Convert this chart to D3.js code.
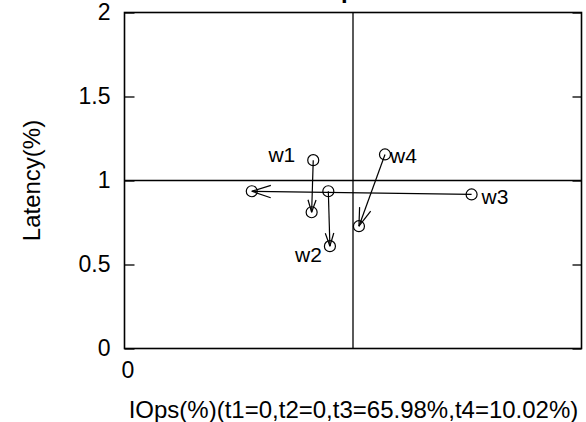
<!DOCTYPE html>
<html>
<head>
<meta charset="utf-8">
<script src="https://cdn.jsdelivr.net/npm/d3@7"></script>
<style>
  body { margin: 0; background: #fff; }
  svg { display: block; }
  text { font-family: Arial, "Liberation Sans", sans-serif; fill: #000; }
</style>
</head>
<body>
<svg width="586" height="422"></svg>
<script>
// workload names
var workloads = ["w1", "w2", "w3", "w4"];
// before -> after (IOps %, Latency %)
var startIOps = [0.826, 0.892, 1.519, 1.140];
var startLat  = [1.121, 0.936, 0.917, 1.155];
var endIOps   = [0.819, 0.899, 0.557, 1.026];
var endLat    = [0.811, 0.609, 0.936, 0.728];

var yTicks = [0, 0.5, 1, 1.5, 2];
var xTicks = [0];
var xTitle = "IOps(%)(t1=0,t2=0,t3=65.98%,t4=10.02%)";
var yTitle = "Latency(%)";
var chartTitle = "p";

// label placement, px offset from the point the label hangs on
var labelAt = {
    w1: { at: "start", dx: -18, dy: 2, anchor: "end" },
    w2: { at: "end", dx: -8, dy: 16, anchor: "end" },
    w3: { at: "start", dx: 10, dy: 10, anchor: "start" },
    w4: { at: "start", dx: 5, dy: 9, anchor: "start" }
};

var svg = d3.select("svg");
var pLeft = 124.5, pRight = 581.5, pTop = 12.5, pBottom = 348.5;

var x = d3.scaleLinear().domain([0, 2]).range([pLeft, pRight]);
var y = d3.scaleLinear().domain([0, 2]).range([pBottom, pTop]);

var data = workloads.map(function(w, i) {
    return { name: w, x0: startIOps[i], y0: startLat[i], x1: endIOps[i], y1: endLat[i] };
});

// title (mostly outside the view)
svg.append("text")
    .attr("x", 341)
    .attr("y", -2)
    .style("font-size", "24px")
    .style("font-weight", "bold")
    .text(chartTitle);

// reference lines at 100%
svg.append("line")
    .attr("x1", x(1)).attr("x2", x(1))
    .attr("y1", pTop).attr("y2", pBottom)
    .attr("stroke", "#000").attr("stroke-width", 1.3);
svg.append("line")
    .attr("x1", pLeft).attr("x2", pRight)
    .attr("y1", y(1)).attr("y2", y(1))
    .attr("stroke", "#000").attr("stroke-width", 1.3);

// left axis, ticks inside
var yAxis = d3.axisLeft(y).tickValues(yTicks).tickSize(-10).tickPadding(14)
    .tickFormat(d3.format("~g"));
var gy = svg.append("g").attr("transform", "translate(" + pLeft + ",0)").call(yAxis);
gy.select(".domain").remove();
gy.selectAll("text").style("font-size", "23px").style("font-family", "Arial, 'Liberation Sans', sans-serif");
gy.selectAll("line").attr("stroke-width", 1.3);

// right axis ticks
var gr = svg.append("g").attr("transform", "translate(" + pRight + ",0)")
    .call(d3.axisRight(y).tickValues(yTicks).tickSize(-9).tickFormat(""));
gr.select(".domain").remove();
gr.selectAll("line").attr("stroke-width", 1.3);

// bottom axis: just the 0 label
var gx = svg.append("g").attr("transform", "translate(0," + pBottom + ")")
    .call(d3.axisBottom(x).tickValues(xTicks).tickSize(0).tickPadding(13)
        .tickFormat(d3.format("~g")));
gx.select(".domain").remove();
gx.selectAll("text").style("font-size", "23px").style("font-family", "Arial, 'Liberation Sans', sans-serif")
    .attr("dx", 3);

// frame
svg.append("rect")
    .attr("x", pLeft).attr("y", pTop)
    .attr("width", pRight - pLeft).attr("height", pBottom - pTop)
    .attr("fill", "none").attr("stroke", "#000").attr("stroke-width", 1.6);

// axis titles
svg.append("text")
    .attr("x", 353.5).attr("y", 418)
    .attr("text-anchor", "middle")
    .style("font-size", "24px")
    .text(xTitle);
svg.append("text")
    .attr("transform", "translate(40," + y(1) + ") rotate(-90)")
    .attr("text-anchor", "middle")
    .style("font-size", "24px")
    .text(yTitle);

// arrows
var g = svg.append("g").attr("stroke", "#000").attr("fill", "none");
data.forEach(function(d) {
    var ax = x(d.x0), ay = y(d.y0), bx = x(d.x1), by = y(d.y1);
    g.append("line")
        .attr("x1", ax).attr("y1", ay).attr("x2", bx).attr("y2", by)
        .attr("stroke-width", 1.2);
    var len = Math.hypot(bx - ax, by - ay);
    var head = Math.min(0.25 * len, 20);
    var ang = Math.atan2(ay - by, ax - bx);
    var spread = 18 * Math.PI / 180;
    [-spread, spread].forEach(function(s) {
        g.append("line")
            .attr("x1", bx).attr("y1", by)
            .attr("x2", bx + head * Math.cos(ang + s))
            .attr("y2", by + head * Math.sin(ang + s))
            .attr("stroke-width", 1.2);
    });
    g.append("circle").attr("cx", ax).attr("cy", ay).attr("r", 5.5).attr("stroke-width", 1.2);
    g.append("circle").attr("cx", bx).attr("cy", by).attr("r", 5.5).attr("stroke-width", 1.2);
});

// workload labels
svg.selectAll(".wlabel")
    .data(data)
    .enter()
    .append("text")
    .attr("class", "wlabel")
    .attr("x", function(d) {
        var o = labelAt[d.name];
        return (o.at == "start" ? x(d.x0) : x(d.x1)) + o.dx;
    })
    .attr("y", function(d) {
        var o = labelAt[d.name];
        return (o.at == "start" ? y(d.y0) : y(d.y1)) + o.dy;
    })
    .attr("text-anchor", function(d) { return labelAt[d.name].anchor; })
    .style("font-size", "21px")
    .text(function(d) { return d.name; });
</script>
</body>
</html>
